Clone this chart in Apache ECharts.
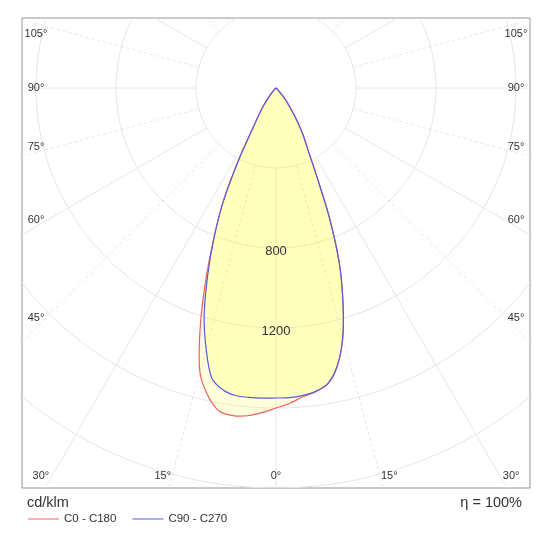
<!DOCTYPE html>
<html>
<head>
<meta charset="utf-8">
<script src="https://cdn.jsdelivr.net/npm/echarts@6/dist/echarts.min.js"></script>
<style>
  html, body { margin: 0; padding: 0; background: #fff; }
  #chart { width: 550px; height: 550px; }
</style>
</head>
<body>
<div id="chart"></div>
<script>
// gamma angles (deg from nadir) and intensities in cd/klm
const gammaAngles = [0, 2.5, 5, 7.5, 10, 12.5, 15, 17.5, 20, 22.5, 25, 27.5, 30, 32.5, 35, 37.5, 40, 45, 50, 60, 70, 80, 90];
const c0   = [1600, 1578, 1550, 1530, 1500, 1420, 1290, 1112, 920, 690, 470, 342, 270, 199, 140, 95, 60, 15, 0, 0, 0, 0, 0];
const c180 = [1600, 1625, 1645, 1652, 1640, 1575, 1470, 1262, 1030, 810, 620, 400, 230, 160, 110, 70, 40, 10, 0, 0, 0, 0, 0];
const c90  = [1550, 1550, 1543, 1530, 1500, 1420, 1290, 1112, 920, 690, 470, 342, 270, 199, 140, 95, 60, 15, 0, 0, 0, 0, 0];
const c270 = [1550, 1552, 1553, 1551, 1532, 1485, 1350, 1195, 1000, 810, 620, 400, 230, 160, 110, 70, 40, 10, 0, 0, 0, 0, 0];

const ringValues = [400, 800, 1200, 1600, 2000];
const ringLabels = [800, 1200];
const spokeAngles = [0, 15, 30, 45, 60, 75, 90, 105, 120, 135, 150, 165, 180];
const angleLabels = [0, 15, 30, 45, 60, 75, 90, 105];

const gridColor = '#e6e6e6';
const textColor = '#333';
const fontFamily = '"Liberation Sans", Arial, sans-serif';

function toXY(side, g, r) {
  const a = g * Math.PI / 180;
  return [side * r * Math.sin(a), -r * Math.cos(a)];
}

function curvePoints(rightVals, leftVals) {
  const pts = [];
  for (let i = gammaAngles.length - 1; i >= 0; i--) pts.push(toXY(-1, gammaAngles[i], leftVals[i]));
  for (let i = 1; i < gammaAngles.length; i++) pts.push(toXY(1, gammaAngles[i], rightVals[i]));
  return pts;
}

function renderCurve(rightVals, leftVals, color) {
  return function (params, api) {
    const pts = [];
    curvePoints(rightVals, leftVals).forEach(p => {
      const c = api.coord(p);
      const last = pts[pts.length - 1];
      if (!last || Math.abs(last[0] - c[0]) > 0.01 || Math.abs(last[1] - c[1]) > 0.01) pts.push(c);
    });
    return {
      type: 'polyline',
      shape: { points: pts, smooth: 0.3 },
      style: { fill: 'rgba(255,255,10,0.143)', stroke: color, lineWidth: 1.2 }
    };
  };
}

function renderGrid(params, api) {
  const children = [];
  ringValues.forEach(R => {
    const pts = [];
    for (let a = 0; a <= 360; a += 2) pts.push(api.coord(toXY(1, a, R)));
    children.push({ type: 'polyline', shape: { points: pts }, style: { stroke: gridColor, lineWidth: 1, fill: null } });
  });
  spokeAngles.forEach(g => {
    [-1, 1].forEach(s => {
      if ((g === 0 || g === 180) && s < 0) return;
      const p1 = api.coord(toXY(s, g, ringValues[0]));
      const p2 = api.coord(toXY(s, g, 3000));
      children.push({
        type: 'line',
        shape: { x1: p1[0], y1: p1[1], x2: p2[0], y2: p2[1] },
        style: { stroke: gridColor, lineWidth: 1, lineDash: g % 30 ? [3, 3] : null }
      });
    });
  });
  return { type: 'group', children: children };
}

function renderLabels(params, api) {
  const cs = params.coordSys;
  const children = [];
  const c = api.coord([0, 0]);
  const left = cs.x + 16, right = cs.x + cs.width - 16;
  const top = cs.y + 16, bottom = cs.y + cs.height - 12;
  angleLabels.forEach(g => {
    [-1, 1].forEach(s => {
      if (g === 0 && s < 0) return;
      const gn = (g % 90 === 0) ? g : g + 1;
      const a = gn * Math.PI / 180;
      const dx = s * Math.sin(a), dy = Math.cos(a);
      let t = ((s > 0 ? right : left) - c[0]) / dx;
      if (dy > 0) t = Math.min(t, (bottom - c[1]) / dy);
      let x = c[0] + t * dx, y = c[1] + t * dy;
      if (g !== 0) x = Math.max(left - 2, Math.min(right + 2, x + s * 2));
      y = Math.max(top, Math.min(bottom, y));
      children.push({
        type: 'text', x: x, y: y,
        style: { text: g + '°', fill: textColor, font: '11px ' + fontFamily, align: 'center', verticalAlign: 'middle' }
      });
    });
  });
  ringLabels.forEach(v => {
    const p = api.coord([0, -v]);
    children.push({
      type: 'text', x: p[0], y: p[1] + 3,
      style: { text: String(v), fill: textColor, font: '13px ' + fontFamily, align: 'center', verticalAlign: 'middle' }
    });
  });
  return { type: 'group', children: children };
}

const chart = echarts.init(document.getElementById('chart'));
chart.setOption({
  animation: false,
  backgroundColor: '#fff',
  grid: { left: 22, right: 20, top: 18, bottom: 62, show: true, borderColor: '#949494', borderWidth: 1 },
  xAxis: { type: 'value', min: -1270, max: 1270, show: false },
  yAxis: { type: 'value', min: -2000, max: 350, show: false },
  legend: {
    data: ['C0 - C180', 'C90 - C270'],
    left: 23, top: 508,
    icon: 'rect', itemWidth: 31, itemHeight: 1, itemGap: 16,
    textStyle: { color: textColor, fontSize: 11.5, fontFamily: fontFamily }
  },
  graphic: [
    { type: 'text', left: 27, top: 495, style: { text: 'cd/klm', fill: textColor, font: '14.5px ' + fontFamily } },
    { type: 'text', right: 28, top: 495, style: { text: 'η = 100%', fill: textColor, font: '14.5px ' + fontFamily } }
  ],
  series: [
    { type: 'custom', name: 'grid', silent: true, clip: true, z: 1, data: [[0, 0]], renderItem: renderGrid },
    { type: 'custom', name: 'C0 - C180', clip: true, z: 2, itemStyle: { color: '#f06060' }, data: [[0, 0]], renderItem: renderCurve(c0, c180, '#f06060') },
    { type: 'custom', name: 'C90 - C270', clip: true, z: 3, itemStyle: { color: '#5a5ae0' }, data: [[0, 0]], renderItem: renderCurve(c90, c270, '#5a5ae0') },
    { type: 'custom', name: 'labels', silent: true, z: 4, data: [[0, 0]], renderItem: renderLabels }
  ]
});
</script>
</body>
</html>
